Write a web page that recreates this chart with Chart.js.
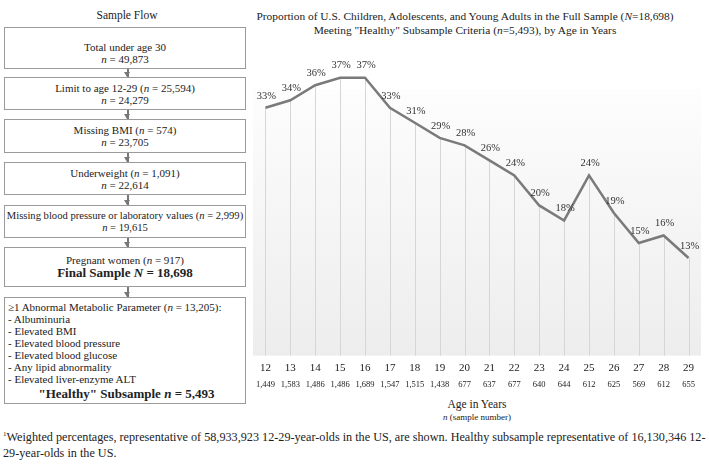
<!DOCTYPE html>
<html>
<head>
<meta charset="utf-8">
<script src="https://cdn.jsdelivr.net/npm/chart.js@4.4.1/dist/chart.umd.min.js"></script>
<style>
  html, body { margin: 0; padding: 0; background: #fff; }
  body { width: 709px; height: 465px; position: relative; overflow: hidden;
         font-family: "Liberation Serif", "Times New Roman", serif; color: #222; }
  .abs { position: absolute; }
  .flow-title { left: 4px; width: 246px; top: 9px; text-align: center; font-size: 11.5px; }
  .box { position: absolute; left: 4px; width: 242px; border: 1.5px solid #9a9a9a;
         box-sizing: border-box; text-align: center; font-size: 11px; line-height: 12px;
         display: flex; flex-direction: column; justify-content: center; }
  .box b { font-size: 13px; line-height: 14px; }
  .arrow { position: absolute; left: 127px; width: 1.5px; background: #777; }
  .arrow::after { content: ""; position: absolute; left: -3px; bottom: 0;
         border-left: 3.75px solid transparent; border-right: 3.75px solid transparent;
         border-top: 5px solid #777; }
  .left { text-align: left; padding-left: 3px; justify-content: flex-start; padding-top: 3px; }
  .chart-title { left: 250px; width: 430px; top: 9px; text-align: center; font-size: 11.4px; line-height: 14px; white-space: nowrap; }
  .axis-title { left: 253px; width: 448px; top: 398px; text-align: center; font-size: 11.5px; line-height: 12px; }
  .axis-sub { font-size: 9px; }
  .foot { left: 3px; top: 426px; font-size: 12.2px; line-height: 16px; white-space: nowrap; }
  .foot sup { font-size: 7px; vertical-align: 5px; }
  #wrap { position: absolute; left: 253px; top: 40px; width: 456px; height: 353px; }
</style>
</head>
<body>
<div class="abs flow-title">Sample Flow</div>

<div class="box" style="top:27px;height:42px;padding-top:9px;"><div>Total under age 30<br><i>n</i> = 49,873</div></div>
<div class="arrow" style="top:69px;height:8px;"></div>
<div class="box" style="top:77px;height:33px;"><div>Limit to age 12-29 (<i>n</i> = 25,594)<br><i>n</i> = 24,279</div></div>
<div class="arrow" style="top:110px;height:9px;"></div>
<div class="box" style="top:119px;height:34px;"><div>Missing BMI (<i>n</i> = 574)<br><i>n</i> = 23,705</div></div>
<div class="arrow" style="top:153px;height:9px;"></div>
<div class="box" style="top:162px;height:33px;"><div>Underweight (<i>n</i> = 1,091)<br><i>n</i> = 22,614</div></div>
<div class="arrow" style="top:195px;height:10px;"></div>
<div class="box" style="top:205px;height:33px;font-size:10.6px;white-space:nowrap;"><div>Missing blood pressure or laboratory values (<i>n</i> = 2,999)<br><i>n</i> = 19,615</div></div>
<div class="arrow" style="top:238px;height:9px;"></div>
<div class="box" style="top:247px;height:40px;"><div>Pregnant women (<i>n</i> = 917)<br><b>Final Sample <i>N</i> = 18,698</b></div></div>
<div class="arrow" style="top:287px;height:10px;"></div>
<div class="box left" style="top:297px;height:107px;">
  <div>&ge;1 Abnormal Metabolic Parameter (<i>n</i> = 13,205):</div>
  <div>- Albuminuria</div>
  <div>- Elevated BMI</div>
  <div>- Elevated blood pressure</div>
  <div>- Elevated blood glucose</div>
  <div>- Any lipid abnormality</div>
  <div>- Elevated liver-enzyme ALT</div>
  <div style="text-align:center;margin-top:2px;"><b>"Healthy" Subsample <i>n</i> = 5,493</b></div>
</div>

<div class="abs chart-title">Proportion of U.S. Children, Adolescents, and Young Adults in the Full Sample (<i>N</i>=18,698)<br>Meeting "Healthy" Subsample Criteria (<i>n</i>=5,493), by Age in Years</div>

<div id="wrap"><canvas id="ageChart"></canvas></div>

<div class="abs axis-title">Age in Years<br><span class="axis-sub"><i>n</i> (sample number)</span></div>

<div class="abs foot"><sup>1</sup>Weighted percentages, representative of 58,933,923 12-29-year-olds in the US, are shown. Healthy subsample representative of 16,130,346 12-<br>29-year-olds in the US.</div>

<script>
// Data
const ages = ["12", "13", "14", "15", "16", "17", "18", "19", "20", "21", "22", "23", "24", "25", "26", "27", "28", "29"];
const sampleN = ["1,449", "1,583", "1,486", "1,486", "1,689", "1,547", "1,515", "1,438", "677", "637", "677", "640", "644", "612", "625", "569", "612", "655"];
const healthyPct = [33, 34, 36, 37, 37, 33, 31, 29, 28, 26, 24, 20, 18, 24, 19, 15, 16, 13];

const SERIF = '"Liberation Serif", "Times New Roman", serif';

// plot background: light vertical gradient
const plotBackground = {
    id: "plotBackground",
    beforeDraw(chart) {
        const { ctx, chartArea: a } = chart;
        const g = ctx.createLinearGradient(0, a.top, 0, a.bottom);
        g.addColorStop(0, "#fdfdfd");
        g.addColorStop(1, "#ededed");
        ctx.save();
        ctx.fillStyle = g;
        ctx.fillRect(a.left, a.top, a.right - a.left, a.bottom - a.top);
        ctx.restore();
    }
};

// drop lines from every point down to the axis
const dropLines = {
    id: "dropLines",
    beforeDatasetsDraw(chart) {
        const { ctx, chartArea: a } = chart;
        const meta = chart.getDatasetMeta(0);
        ctx.save();
        ctx.strokeStyle = "#d6d6d6";
        ctx.lineWidth = 1;
        meta.data.forEach(p => {
            const x = Math.round(p.x) + 0.5;
            ctx.beginPath();
            ctx.moveTo(x, p.y);
            ctx.lineTo(x, a.bottom);
            ctx.stroke();
        });
        ctx.restore();
    }
};

// percentage labels above the points
const pointLabels = {
    id: "pointLabels",
    afterDatasetsDraw(chart) {
        const { ctx } = chart;
        const meta = chart.getDatasetMeta(0);
        ctx.save();
        ctx.fillStyle = "#333";
        ctx.font = "10.5px " + SERIF;
        ctx.textAlign = "center";
        ctx.textBaseline = "middle";
        meta.data.forEach((p, i) => {
            ctx.fillText(healthyPct[i] + "%", p.x + 1, p.y - 12);
        });
        ctx.restore();
    }
};

new Chart(document.getElementById("ageChart"), {
    type: "line",
    data: {
        labels: ages,
        datasets: [{
            data: healthyPct,
            borderColor: "#7a7a7a",
            borderWidth: 2.5,
            pointRadius: 0,
            tension: 0,
            clip: false
        }]
    },
    options: {
        responsive: true,
        maintainAspectRatio: false,
        animation: false,
        layout: { padding: { top: 49, right: 8, bottom: 4, left: 0 } },
        scales: {
            x: {
                offset: true,
                weight: 0,
                grid: { display: false, drawTicks: false },
                border: { display: false },
                ticks: { color: "#222", font: { family: SERIF, size: 11 }, padding: 5.4, maxRotation: 0, autoSkip: false }
            },
            x2: {
                type: "category",
                labels: sampleN,
                position: "bottom",
                offset: true,
                weight: 1,
                grid: { display: false, drawTicks: false },
                border: { display: false },
                ticks: { color: "#222", font: { family: SERIF, size: 8.5, lineHeight: 1.1 }, padding: 0, maxRotation: 0, autoSkip: false }
            },
            y: {
                display: false,
                min: 0,
                max: 35.5
            }
        },
        plugins: {
            legend: { display: false },
            tooltip: { enabled: false }
        }
    },
    plugins: [plotBackground, dropLines, pointLabels]
});
</script>
</body>
</html>
